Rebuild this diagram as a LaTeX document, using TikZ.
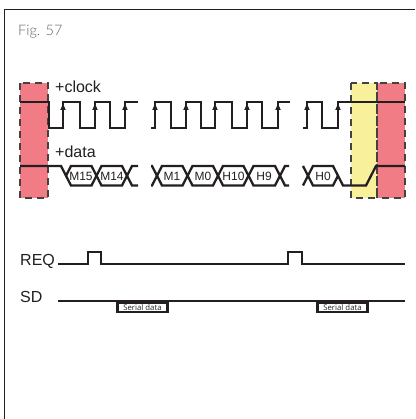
\documentclass[tikz,border=0pt]{standalone}
\usepackage{fontspec}
\setmainfont{Liberation Sans}
\newfontfamily\figfont{Lato Light}
\newfontfamily\boxfont{Open Sans}
\definecolor{ink}{HTML}{231F20}
\definecolor{pinkzone}{HTML}{F17C85}
\definecolor{yellowzone}{HTML}{F8F09A}
\tikzset{
  sig/.style={draw=ink,line width=2.3pt,line join=miter,line cap=butt},
  frameline/.style={draw=ink,line width=1.3pt},
  zonedash/.style={draw=ink!85,line width=1.2pt,dash pattern=on 7pt off 5pt},
  lab/.style={inner sep=0pt,anchor=base west,font=\fontsize{16}{16}\selectfont,text=ink},
  hexlab/.style={inner sep=0pt,font=\fontsize{12}{12}\selectfont,text=ink},
  serialbox/.style={draw=ink,line width=2.2pt,fill=white,minimum width=50pt,minimum height=9pt,inner sep=0pt,anchor=north,font=\boxfont\fontsize{7.8}{7.8}\selectfont,text=ink},
}
\begin{document}
\begin{tikzpicture}[x=1pt,y=-1pt]
\useasboundingbox (0,0) rectangle (415,419);
% frame
\draw[frameline] (415,9.5) -- (4.5,9.5) -- (4.5,419);
\node[inner sep=0pt,anchor=base west,font=\figfont\fontsize{14.5}{14.5}\selectfont,text=black!60] (fig) at (18,36) {Fig. 57};
% zones
\fill[pinkzone] (20,83) rectangle (48,198);
\fill[yellowzone] (351,83) rectangle (377,198);
\fill[pinkzone] (377,83) rectangle (405,198);
\draw[zonedash] (20,83) rectangle (48,198);
\draw[zonedash] (351,83) rectangle (377,198);
\draw[zonedash] (377,83) rectangle (405,198);
% clock
\node[lab] (clk) at (55,93) {+clock};
\draw[sig] (20,102) -- (49,102) -- (49,128) -- (63,128) -- (63,102) -- (80,102) -- (80,128) -- (95,128) -- (95,102) -- (110,102) -- (110,128) -- (125,128) -- (125,102) -- (138,102);
\draw[sig] (151,128) -- (155,128) -- (155,102) -- (171,102) -- (171,128) -- (186,128) -- (186,102) -- (201,102) -- (201,128) -- (215,128) -- (215,102) -- (232,102) -- (232,128) -- (247,128) -- (247,102) -- (262,102) -- (262,128) -- (278,128) -- (278,102) -- (290,102);
\draw[sig] (303,128) -- (307,128) -- (307,102) -- (322,102) -- (322,128) -- (338,128) -- (338,102) -- (405,102);
\foreach \x in {63,95,125,155,186,215,247,278,307,338}
  \fill[ink] (\x-2.8,110) -- (\x,104) -- (\x+2.8,110) -- cycle;
% data
\node[lab] (dat) at (55,158) {+data};
\def\hi{166}\def\lo{185.5}
\draw[sig] (20,\hi) -- (61,\hi) -- (71,\lo) -- (91.5,\lo) -- (101.5,\hi) -- (122,\hi) -- (132,\lo) -- (138,\lo);
\draw[sig] (66,175.75) -- (71,\hi) -- (91.5,\hi) -- (101.5,\lo) -- (122,\lo) -- (132,\hi) -- (138,\hi);
\draw[sig] (151,\lo) -- (152,\lo) -- (162,\hi) -- (182.5,\hi) -- (192.5,\lo) -- (213,\lo) -- (223,\hi) -- (243.5,\hi) -- (253.5,\lo) -- (275,\lo) -- (285,\hi) -- (289,\hi);
\draw[sig] (151,\hi) -- (152,\hi) -- (162,\lo) -- (182.5,\lo) -- (192.5,\hi) -- (213,\hi) -- (223,\lo) -- (243.5,\lo) -- (253.5,\hi) -- (275,\hi) -- (285,\lo) -- (289,\lo);
\draw[sig] (303,\lo) -- (313,\hi) -- (333,\hi) -- (343,\lo) -- (366,\lo) -- (376,\hi) -- (405,\hi);
\draw[sig] (303,\hi) -- (313,\lo) -- (333,\lo) -- (338,175.75);
\node[hexlab] (m15) at (81,176) {M15};
\node[hexlab] (m14) at (112,176) {M14};
\node[hexlab] (m1) at (172,176) {M1};
\node[hexlab] (m0) at (203,176) {M0};
\node[hexlab] (h10) at (233.5,176) {H10};
\node[hexlab] (h9) at (264,176) {H9};
\node[hexlab] (h0) at (323,176) {H0};
% REQ
\node[lab] (req) at (20,265) {REQ};
\draw[sig] (58,264) -- (88,264) -- (88,252) -- (101,252) -- (101,264) -- (288,264) -- (288,252) -- (302,252) -- (302,264) -- (405,264);
% SD
\node[lab] (sd) at (20,302) {SD};
\draw[sig] (58,301) -- (405,301);
\node[serialbox] (s1) at (142.5,301.5) {Serial data};
\node[serialbox] (s2) at (342.5,301.5) {Serial data};
\end{tikzpicture}
\end{document}
